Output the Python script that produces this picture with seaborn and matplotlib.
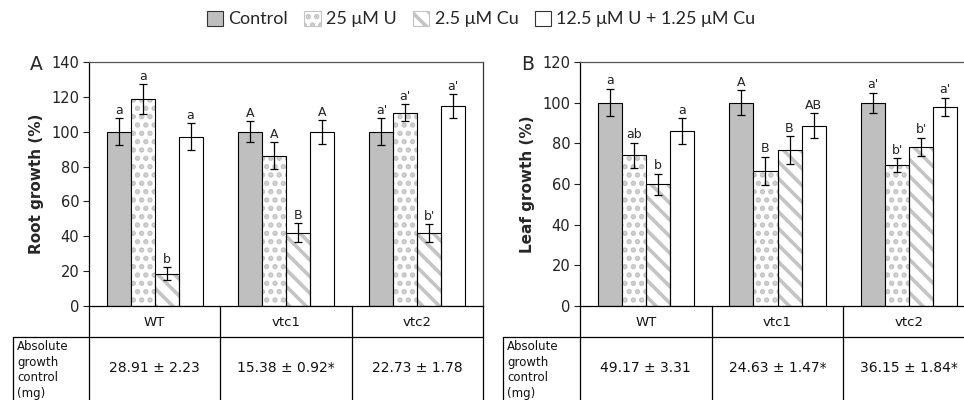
import matplotlib
matplotlib.use("Agg")
import matplotlib.pyplot as plt
import seaborn as sns
import pandas as pd
from matplotlib.patches import Patch, Rectangle
from matplotlib.lines import Line2D

# ---------------- data ----------------
genotypes = ["WT", "vtc1", "vtc2"]
treatments = ["Control", "25 μM U", "2.5 μM Cu", "12.5 μM U + 1.25 μM Cu"]

root_control = [100.0, 100.0, 100.0]
root_u = [118.8, 86.3, 111.0]
root_cu = [18.5, 42.0, 42.0]
root_mix = [97.2, 99.8, 114.8]
root_control_err = [7.7, 6.0, 7.7]
root_u_err = [8.5, 7.7, 4.9]
root_cu_err = [3.7, 5.4, 5.0]
root_mix_err = [7.7, 6.9, 6.9]
root_letters = [["a", "A", "a'"], ["a", "A", "a'"], ["b", "B", "b'"], ["a", "A", "a'"]]

leaf_control = [100.0, 100.0, 100.0]
leaf_u = [74.1, 66.3, 69.2]
leaf_cu = [59.8, 76.6, 78.2]
leaf_mix = [85.9, 88.7, 98.0]
leaf_control_err = [6.8, 6.0, 5.0]
leaf_u_err = [6.1, 7.0, 3.4]
leaf_cu_err = [5.1, 6.8, 4.6]
leaf_mix_err = [6.4, 6.0, 4.5]
leaf_letters = [["a", "A", "a'"], ["ab", "B", "b'"], ["b", "B", "b'"], ["a", "AB", "a'"]]

root_abs = ["28.91 ± 2.23", "15.38 ± 0.92*", "22.73 ± 1.78"]
leaf_abs = ["49.17 ± 3.31", "24.63 ± 1.47*", "36.15 ± 1.84*"]
abs_label = "Absolute\ngrowth\ncontrol\n(mg)"

# ---------------- style ----------------
sns.set_theme(style="white")
plt.rcParams["font.family"] = ["DejaVu Sans"]
plt.rcParams["hatch.linewidth"] = 2.6

fills = ["#bfbfbf", "white", "white", "white"]
hatches = [None, "..", "\\\\", None]
hatch_col = "#c4c4c4"

W, H = 964, 400
fig = plt.figure(figsize=(W / 100, H / 100), dpi=100)


def fx(px):
    return px / W


def fy(py):
    return 1 - py / H


def make_panel(rect, means, errs, letters, ylim, yticks, ylabel, panel_letter,
               letter_x, absvals, table_left, right_px, show_right):
    ax = fig.add_axes(rect)
    rows = []
    for t, vals in zip(treatments, means):
        for g, v in zip(genotypes, vals):
            rows.append({"genotype": g, "treatment": t, "value": v})
    df = pd.DataFrame(rows)
    sns.barplot(data=df, x="genotype", y="value", hue="treatment",
                order=genotypes, hue_order=treatments, palette=fills,
                errorbar=None, width=0.73, edgecolor="black", linewidth=0.8,
                legend=False, ax=ax, saturation=1)
    bar_conts = list(ax.containers)
    for i, cont in enumerate(bar_conts):
        for j, bar in enumerate(cont):
            xc = bar.get_x() + bar.get_width() / 2
            if hatches[i]:
                bar.set_hatch(hatches[i])
                bar.set_edgecolor(hatch_col)
                bar.set_linewidth(0)
                ax.add_patch(Rectangle(bar.get_xy(), bar.get_width(), bar.get_height(),
                                       fill=False, edgecolor="black", linewidth=0.8, zorder=3))
            m = means[i][j]
            e = errs[i][j]
            ax.errorbar(xc, m, yerr=e, fmt="none", ecolor="black", elinewidth=0.9,
                        capsize=3, capthick=0.9, zorder=4)
            ax.text(xc, m + e + 0.8, letters[i][j], ha="center", va="bottom",
                    fontsize=9, color="#222222", zorder=5)
    ax.set_xlim(-0.5, 2.5)
    ax.set_ylim(*ylim)
    ax.set_yticks(yticks)
    ax.set_xticks([])
    ax.set_xlabel("")
    ax.set_ylabel(ylabel, fontsize=11, fontweight="bold", labelpad=5)
    ax.tick_params(axis="y", direction="out", length=4, width=0.8, left=True,
                   labelsize=10.5, colors="#222222", pad=3)
    for s in ["left", "bottom"]:
        ax.spines[s].set_color("black")
        ax.spines[s].set_linewidth(0.9)
    ax.spines["top"].set_color("#555555")
    ax.spines["top"].set_linewidth(0.9)
    ax.spines["right"].set_visible(show_right)
    ax.spines["right"].set_color("#333333")
    ax.spines["right"].set_linewidth(0.9)
    ax.text(letter_x, rect[1] + rect[3] - 0.005, panel_letter, transform=fig.transFigure,
            fontsize=13.5, ha="left", va="center")

    # table below axis
    left_px = rect[0] * W
    width_px = rect[2] * W
    bounds = [left_px + width_px * k / 3 for k in range(4)]
    zero_y, mid_y, bot_y = 306, 337, 400
    lc = "black"
    for k, bx in enumerate(bounds):
        if bx <= W:
            fig.add_artist(Line2D([fx(bx), fx(bx)], [fy(zero_y), fy(bot_y)],
                                  color=lc, lw=0.9))
    fig.add_artist(Line2D([fx(table_left), fx(table_left)], [fy(mid_y), fy(bot_y)],
                          color=lc, lw=0.9))
    fig.add_artist(Line2D([fx(table_left), fx(min(right_px, W))], [fy(mid_y), fy(mid_y)],
                          color=lc, lw=0.9))
    for k in range(3):
        cx = (bounds[k] + bounds[k + 1]) / 2
        fig.text(fx(cx), fy((zero_y + mid_y) / 2 + 1), genotypes[k], ha="center",
                 va="center", fontsize=9.5, color="#111111")
        fig.text(fx(cx), fy(368), absvals[k], ha="center", va="center",
                 fontsize=10, color="#111111")
    fig.text(fx(table_left + 4), fy(370), abs_label, ha="left", va="center",
             fontsize=8.5, linespacing=1.25, color="#111111")
    return ax


axA = make_panel([fx(89), fy(306), fx(483 - 89), (306 - 62) / H],
                 [root_control, root_u, root_cu, root_mix],
                 [root_control_err, root_u_err, root_cu_err, root_mix_err],
                 root_letters, (0, 140), range(0, 141, 20), "Root growth (%)",
                 "A", fx(30), root_abs, 13, 483, True)
axB = make_panel([fx(580), fy(306), fx(975 - 580), (306 - 62) / H],
                 [leaf_control, leaf_u, leaf_cu, leaf_mix],
                 [leaf_control_err, leaf_u_err, leaf_cu_err, leaf_mix_err],
                 leaf_letters, (0, 120), range(0, 121, 20), "Leaf growth (%)",
                 "B", fx(521), leaf_abs, 503, 975, False)

handles = [Patch(facecolor=fills[i], edgecolor=(hatch_col if hatches[i] else "#333333"),
                 hatch=hatches[i], linewidth=0.8) for i in range(4)]
fig.legend(handles, treatments, loc="center", bbox_to_anchor=(fx(481), fy(19)),
           ncol=4, frameon=False, handlelength=0.9, handleheight=0.9,
           handletextpad=0.3, columnspacing=0.9,
           prop={"family": ["Lato", "DejaVu Sans"], "size": 13})

fig.savefig("out.png", dpi=100)
